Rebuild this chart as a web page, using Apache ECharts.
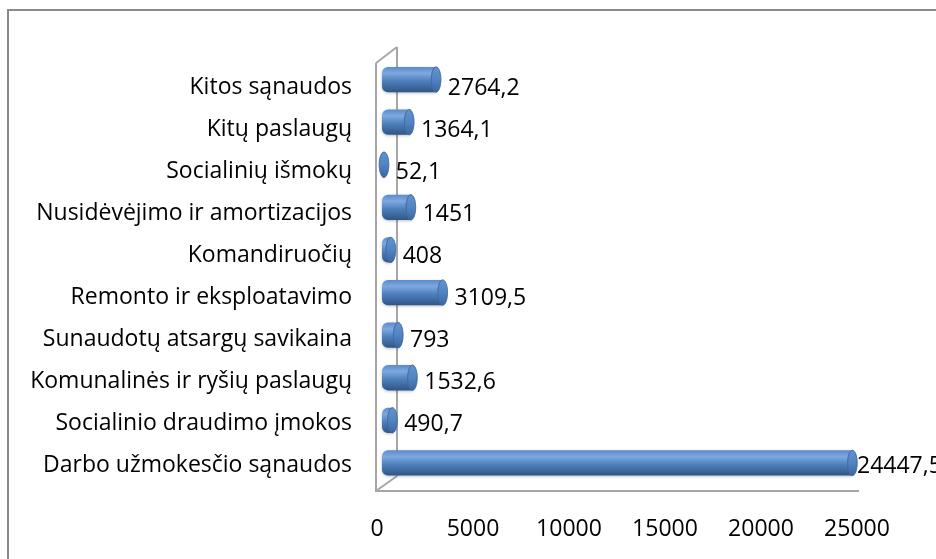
<!DOCTYPE html>
<html>
<head>
<meta charset="utf-8">
<script src="https://cdn.jsdelivr.net/npm/echarts@6/dist/echarts.min.js"></script>
<style>
  html, body { margin: 0; padding: 0; background: #fff; }
  #chart { width: 936px; height: 559px; }
</style>
</head>
<body>
<div id="chart"></div>
<script>
// Expense categories, listed bottom to top as they appear on the axis
const categories = [
  'Darbo užmokesčio sąnaudos',
  'Socialinio draudimo įmokos',
  'Komunalinės ir ryšių paslaugų',
  'Sunaudotų atsargų savikaina',
  'Remonto ir eksploatavimo',
  'Komandiruočių',
  'Nusidėvėjimo ir amortizacijos',
  'Socialinių išmokų',
  'Kitų paslaugų',
  'Kitos sąnaudos'
];
const values = [24447.5, 490.7, 1532.6, 793, 3109.5, 408, 1451, 52.1, 1364.1, 2764.2];
const axisMin = 0;
const axisMax = 25000;
const axisStep = 5000;

const FONT = 'Open Sans';
const FONT_SIZE = 23;
const chart = echarts.init(document.getElementById('chart'), null, { renderer: 'canvas' });

function fmt(v) { return String(v).replace('.', ','); }

// Cylinder-like horizontal bar with an elliptical end cap and a value label
function renderItem(params, api) {
  const idx = api.value(0);
  const val = api.value(1);
  const base = api.coord([0, idx]);
  const end = api.coord([val, idx]);
  const limit = api.coord([axisMax, idx])[0];
  const band = api.size([0, 1])[1];
  const h = band * 0.6;
  const dx = 6;
  const dy = -3 - 0.5 * idx;
  const cy = base[1] + dy;
  const x0 = base[0] + dx;
  const x1 = end[0] + dx;
  const rx = Math.max(3, h * 0.19);
  const bodyFill = new echarts.graphic.LinearGradient(0, 0, 0, 1, [
    { offset: 0, color: '#5a8bcb' },
    { offset: 0.25, color: '#7ea9e0' },
    { offset: 0.55, color: '#4f81bd' },
    { offset: 1, color: '#2f5586' }
  ]);
  const capFill = new echarts.graphic.LinearGradient(0, 0, 0, 1, [
    { offset: 0, color: '#6393d2' },
    { offset: 0.5, color: '#5184c2' },
    { offset: 1, color: '#3a659c' }
  ]);
  const children = [];
  if (x1 - x0 > 1) {
    children.push({
      type: 'rect',
      shape: { x: x0 - 1, y: cy - h / 2, width: x1 - x0 + 1, height: h, r: [6, 0, 0, 6] },
      style: { fill: bodyFill, shadowBlur: 3, shadowColor: 'rgba(0,0,0,0.25)', shadowOffsetY: 1 }
    });
  }
  children.push({
    type: 'ellipse',
    shape: { cx: x1, cy: cy, rx: rx, ry: h / 2 },
    style: { fill: capFill, stroke: '#41699f', lineWidth: 0.6 }
  });
  children.push({
    type: 'text',
    style: {
      text: fmt(val),
      x: Math.min(x1 + rx + 7, limit),
      y: base[1] + 1,
      verticalAlign: 'middle',
      align: 'left',
      fontFamily: FONT,
      fontSize: FONT_SIZE,
      fill: '#000'
    }
  });
  return { type: 'group', children: children };
}

const option = {
  animation: false,
  backgroundColor: '#fff',
  grid: { left: 377, right: 79, top: 66, bottom: 72, containLabel: false },
  xAxis: {
    type: 'value',
    min: axisMin,
    max: axisMax,
    interval: axisStep,
    axisLine: { show: false },
    axisTick: { show: false },
    splitLine: { show: false },
    axisLabel: { margin: 31, fontFamily: FONT, fontSize: FONT_SIZE, color: '#000', formatter: v => String(v) }
  },
  yAxis: {
    type: 'category',
    data: categories,
    axisLine: { show: false },
    axisTick: { show: false },
    splitLine: { show: false },
    axisLabel: { margin: 25, fontFamily: FONT, fontSize: FONT_SIZE, color: '#000' }
  },
  series: [{
    type: 'custom',
    renderItem: renderItem,
    z: 3,
    encode: { x: 1, y: 0 },
    data: values.map((v, i) => [i, v])
  }]
};
chart.setOption(option);

// Chart frame and the 3D wall/floor outline, placed from the grid's pixel geometry
const gridRect = chart.getModel().getComponent('grid').coordinateSystem.getRect();
const xl = gridRect.x;
const xr = gridRect.x + gridRect.width;
const yt = gridRect.y;
const yb = gridRect.y + gridRect.height;
const depthX = 21;
const depthY = 15;
const wallStyle = { stroke: '#a6a6a6', lineWidth: 2, fill: null };
chart.setOption({
  graphic: [
    { type: 'rect', z: 0, shape: { x: 8, y: 10, width: 960, height: 600 },
      style: { fill: null, stroke: '#8a8a8a', lineWidth: 2 } },
    { type: 'polyline', z: 1, shape: { points: [[xl - 1, yt - 3], [xl - 1, yb + 4], [xr + 2, yb + 4]] }, style: wallStyle },
    { type: 'polyline', z: 1, shape: { points: [[xl - 1, yt - 3], [xl - 1 + depthX, yt - 3 - depthY - 1]] }, style: wallStyle },
    { type: 'polyline', z: 1, shape: { points: [[xl - 1, yb + 4], [xl - 1 + depthX, yb + 4 - depthY]] }, style: wallStyle },
    { type: 'polyline', z: 1, shape: { points: [[xl - 1 + depthX, yt - 3 - depthY - 1], [xl - 1 + depthX, yb + 4 - depthY]] }, style: wallStyle }
  ]
});
</script>
</body>
</html>
